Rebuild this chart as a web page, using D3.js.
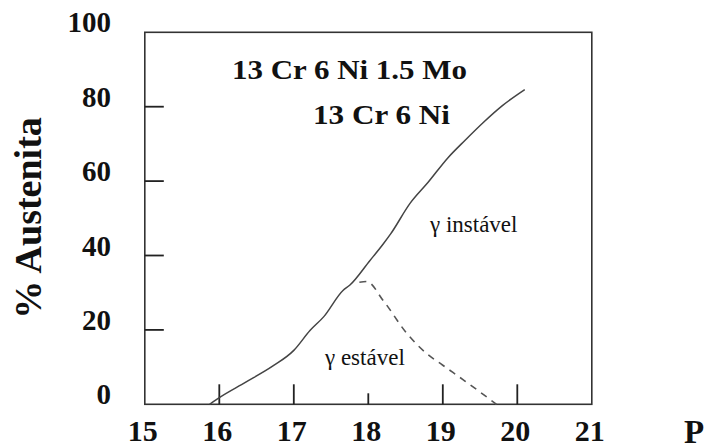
<!DOCTYPE html>
<html>
<head>
<meta charset="utf-8">
<script src="https://cdn.jsdelivr.net/npm/d3@7"></script>
<style>
  html, body { margin: 0; padding: 0; background: #fff; }
  svg { display: block; }
</style>
</head>
<body>
<svg id="chart" width="709" height="446"></svg>
<script>
// Austenite fraction curves
const xTicks = [15, 16, 17, 18, 19, 20, 21];
const yTicks = [0, 20, 40, 60, 80, 100];

// solid curve: total austenite
const totalX = [15.87, 16.0, 16.35, 16.72, 17.0, 17.22, 17.4, 17.66, 17.75, 18.02, 18.2, 18.3, 18.56, 18.8, 19.07, 19.3, 19.54, 19.8, 20.1];
const totalY = [0, 1.8, 5.9, 10.3, 14.5, 19.9, 23.5, 30.6, 32.0, 38.6, 43.1, 45.8, 54.0, 59.6, 66.3, 71.0, 75.7, 80.3, 84.6];

// dashed curve: stable austenite
const stableX = [17.88, 17.98, 18.2, 18.52, 18.78, 19.0, 19.28, 19.5, 19.72];
const stableY = [32.8, 33.0, 27.9, 19.0, 13.7, 10.5, 6.5, 3.3, 0];

const alloyLabels = ["13 Cr 6 Ni 1.5 Mo", "13 Cr 6 Ni"];
const regionLabels = ["\u03b3 instável", "\u03b3 estável"];

const svg = d3.select("#chart");
const serif = "'Liberation Serif', 'Times New Roman', serif";

const x = d3.scaleLinear().domain([15, 21]).range([144.8, 591.8]);
const y = d3.scaleLinear().domain([0, 100]).range([404.3, 32.3]);

// plot frame
svg.append("rect")
  .attr("x", x(15)).attr("y", y(100))
  .attr("width", x(21) - x(15)).attr("height", y(0) - y(100))
  .attr("fill", "none").attr("stroke", "#333").attr("stroke-width", 1.6);

// inward tick marks on the left and bottom edges
const leftTicks = yTicks.filter(d => d > 0 && d < 100);
const bottomTicks = xTicks.filter(d => d > 15 && d < 21);
const tickLen = d => (d === 18 ? 11 : 20);

svg.append("g").selectAll("rect")
  .data(leftTicks)
  .join("rect")
  .attr("x", x(15)).attr("y", d => y(d) - 0.9)
  .attr("width", 19).attr("height", 1.8)
  .attr("fill", "#222");

svg.append("g").selectAll("rect")
  .data(bottomTicks)
  .join("rect")
  .attr("x", d => x(d) - 0.9)
  .attr("y", d => y(0) - tickLen(d))
  .attr("width", 1.8)
  .attr("height", d => tickLen(d))
  .attr("fill", "#222");

// y tick labels
svg.append("g").selectAll("text")
  .data(yTicks)
  .join("text")
  .attr("x", 111).attr("y", d => y(d))
  .attr("text-anchor", "end")
  .attr("font-family", serif).attr("font-weight", "bold")
  .attr("font-size", 29).attr("fill", "#111")
  .text(d => d);

// x tick labels
svg.append("g").selectAll("text")
  .data(xTicks)
  .join("text")
  .attr("x", d => x(d) - 2).attr("y", 440.5)
  .attr("text-anchor", "middle")
  .attr("font-family", serif).attr("font-weight", "bold")
  .attr("font-size", 30).attr("fill", "#111")
  .text(d => d);

// axis titles
svg.append("text")
  .attr("transform", "translate(41,218) rotate(-90)")
  .attr("text-anchor", "middle")
  .attr("font-family", serif).attr("font-weight", "bold")
  .attr("font-size", 38).attr("fill", "#111")
  .text("% Austenita");

svg.append("text")
  .attr("x", 684).attr("y", 443)
  .attr("font-family", serif).attr("font-weight", "bold")
  .attr("font-size", 33).attr("fill", "#111")
  .text("P");

// curves
const line = d3.line().x(d => x(d[0])).y(d => y(d[1])).curve(d3.curveMonotoneX);

svg.append("path")
  .datum(d3.zip(totalX, totalY))
  .attr("d", line)
  .attr("fill", "none").attr("stroke", "#444").attr("stroke-width", 1.5);

svg.append("path")
  .datum(d3.zip(stableX, stableY))
  .attr("d", line)
  .attr("fill", "none").attr("stroke", "#555").attr("stroke-width", 1.6)
  .attr("stroke-dasharray", "7,6");

// alloy labels
svg.append("text")
  .attr("x", 232).attr("y", 78.5)
  .attr("font-family", serif).attr("font-weight", "bold")
  .attr("font-size", 28).attr("fill", "#111")
  .attr("textLength", 235).attr("lengthAdjust", "spacingAndGlyphs")
  .text(alloyLabels[0]);

svg.append("text")
  .attr("x", 313).attr("y", 123.5)
  .attr("font-family", serif).attr("font-weight", "bold")
  .attr("font-size", 28).attr("fill", "#111")
  .attr("textLength", 137).attr("lengthAdjust", "spacingAndGlyphs")
  .text(alloyLabels[1]);

// region labels
svg.append("text")
  .attr("x", 430).attr("y", 231.5)
  .attr("font-family", serif)
  .attr("font-size", 23).attr("fill", "#111")
  .text(regionLabels[0]);

svg.append("text")
  .attr("x", 325).attr("y", 365)
  .attr("font-family", serif)
  .attr("font-size", 23).attr("fill", "#111")
  .text(regionLabels[1]);
</script>
</body>
</html>
